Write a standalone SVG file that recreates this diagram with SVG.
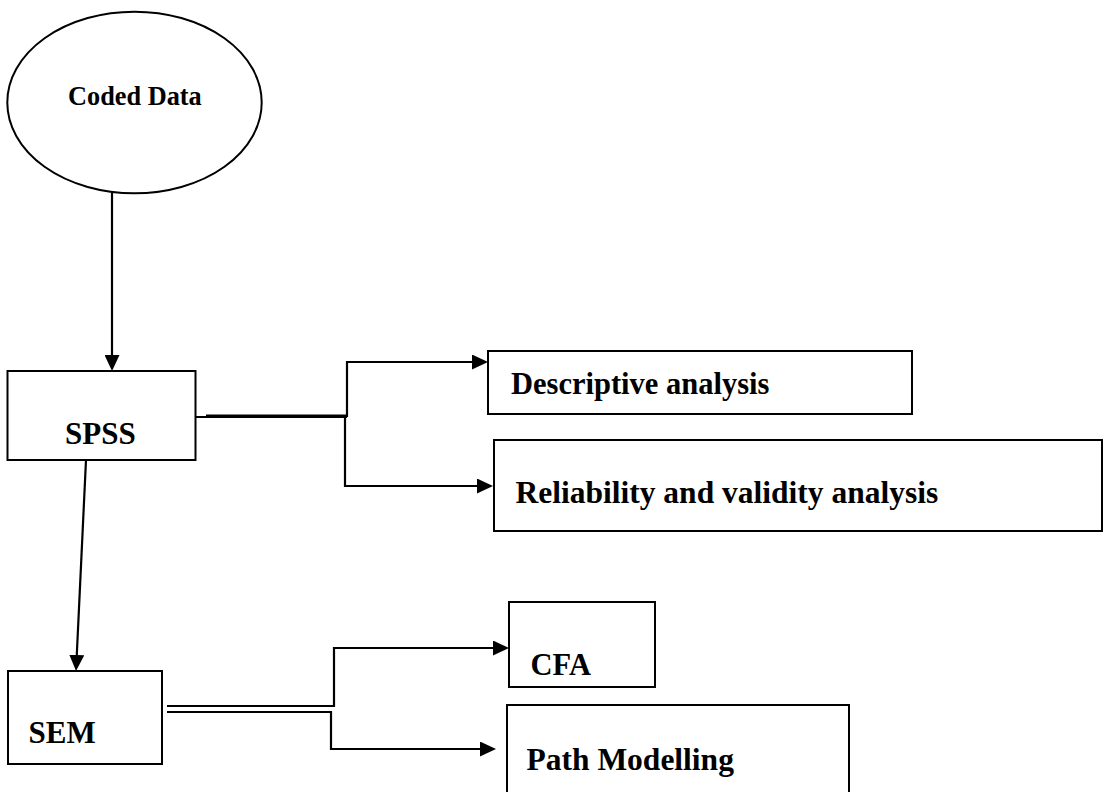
<svg xmlns="http://www.w3.org/2000/svg" width="1104" height="792" viewBox="0 0 1104 792">
<style>
.box{fill:#fff;stroke:#000;stroke-width:2}
.lbl{font-family:"Liberation Serif","Times New Roman",serif;font-weight:bold;fill:#000}
.conn{fill:none;stroke:#000;stroke-width:2.2}
</style>
<defs>
<marker id="arr" markerUnits="userSpaceOnUse" markerWidth="16" markerHeight="15" viewBox="0 0 16 15" refX="8" refY="7.5" orient="auto">
<path d="M0,0 L16,7.5 L0,15 Z" fill="#000"/>
</marker>
</defs>
<rect width="1104" height="792" fill="#fff"/>
<g id="connectors">
<path class="conn" d="M112,193 V363" marker-end="url(#arr)"/>
<path class="conn" d="M195,417 H347"/>
<path class="conn" d="M206,415.5 H347"/>
<path class="conn" d="M347,417 V362 H480" marker-end="url(#arr)"/>
<path class="conn" d="M345,417 V486 H485" marker-end="url(#arr)"/>
<path class="conn" d="M86,460 L76.4,663" marker-end="url(#arr)"/>
<path class="conn" d="M167,706 H334 V648 H501" marker-end="url(#arr)"/>
<path class="conn" d="M167,712 H331 V749 H488" marker-end="url(#arr)"/>
</g>
<g id="coded-data">
<ellipse class="box" cx="134.5" cy="102.5" rx="127.2" ry="90.8"/>
<text class="lbl" x="68" y="105" font-size="26.3">Coded Data</text>
</g>
<g id="spss">
<rect class="box" x="7.5" y="371" width="188" height="89"/>
<text class="lbl" x="65" y="444" font-size="31">SPSS</text>
</g>
<g id="descriptive">
<rect class="box" x="488" y="351" width="424" height="63"/>
<text class="lbl" x="511" y="394" font-size="30.5">Descriptive analysis</text>
</g>
<g id="reliability">
<rect class="box" x="494" y="440" width="608" height="91"/>
<text class="lbl" x="515.5" y="503" font-size="31.5">Reliability and validity analysis</text>
</g>
<g id="sem">
<rect class="box" x="8" y="671" width="154" height="93"/>
<text class="lbl" x="28.5" y="743" font-size="31">SEM</text>
</g>
<g id="cfa">
<rect class="box" x="509" y="602" width="146" height="85"/>
<text class="lbl" x="530.5" y="675" font-size="30.5">CFA</text>
</g>
<g id="path-modelling">
<rect class="box" x="507" y="705" width="342" height="100"/>
<text class="lbl" x="526.5" y="770" font-size="31.5">Path Modelling</text>
</g>
</svg>
